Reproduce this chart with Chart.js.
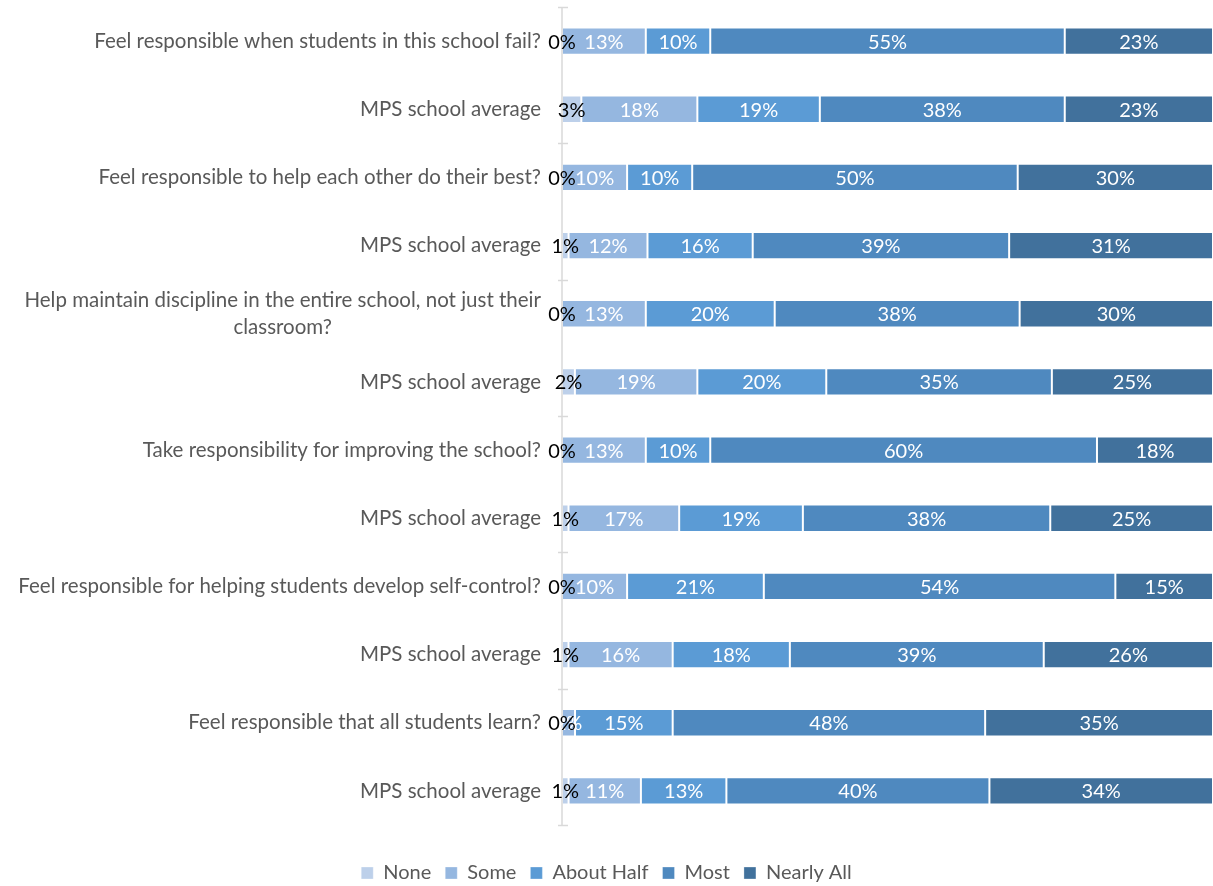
<!DOCTYPE html>
<html>
<head>
<meta charset="utf-8">
<script src="https://cdn.jsdelivr.net/npm/chart.js@4"></script>
<style>
  html, body { margin: 0; padding: 0; background: #fff; }
  #wrap { width: 1213px; height: 886px; position: relative; }
</style>
</head>
<body>
<div id="wrap"><canvas id="c"></canvas></div>
<script>
const categories = [
  "Feel responsible when students in this school fail?",
  "MPS school average",
  "Feel responsible to help each other do their best?",
  "MPS school average",
  ["Help maintain discipline in the entire school, not just their", "classroom?"],
  "MPS school average",
  "Take responsibility for improving the school?",
  "MPS school average",
  "Feel responsible for helping students develop self-control?",
  "MPS school average",
  "Feel responsible that all students learn?",
  "MPS school average"
];
const seriesNames = ["None", "Some", "About Half", "Most", "Nearly All"];
const none      = [0, 3, 0, 1, 0, 2, 0, 1, 0, 1, 0, 1];
const some      = [13, 18, 10, 12, 13, 19, 13, 17, 10, 16, 2, 11];
const aboutHalf = [10, 19, 10, 16, 20, 20, 10, 19, 21, 18, 15, 13];
const most      = [55, 38, 50, 39, 38, 35, 60, 38, 54, 39, 48, 40];
const nearlyAll = [23, 23, 30, 31, 30, 25, 18, 25, 15, 26, 35, 34];

const colors = ["#bdd0ea", "#95b7e0", "#5b9bd5", "#4f89bf", "#41719c"];
const FONT = "Lato, 'Open Sans', sans-serif";
const CAT_FS = 20.5;
const LBL_FS = 20;

const raw = [none, some, aboutHalf, most, nearlyAll];
// 100% stacked: each row is shown as share of its own total (like Excel's 100% stacked bar)
const rowTotals = categories.map((_, r) => raw.reduce((s, arr) => s + arr[r], 0));

const datasets = raw.map((arr, i) => ({
  label: seriesNames[i],
  data: arr.map((v, r) => v / rowTotals[r] * 100),
  rawValues: arr,
  backgroundColor: colors[i],
  borderColor: "rgba(255,255,255,0.3)",
  borderWidth: 1,
  borderSkipped: false,
  barPercentage: 0.4,
  categoryPercentage: 1.0
}));

const decorPlugin = {
  id: "decor",
  afterDraw(chart) {
    const ctx = chart.ctx;
    const y = chart.scales.y;
    const area = chart.chartArea;
    ctx.save();
    // axis line and tick marks (every 2 categories)
    ctx.strokeStyle = "#d9d9d9";
    ctx.lineWidth = 1.5;
    ctx.beginPath();
    ctx.moveTo(area.left, area.top);
    ctx.lineTo(area.left, area.bottom);
    for (let i = 0; i <= categories.length; i += 2) {
      const py = Math.round(y.getPixelForValue(i - 0.5)) + 0.5;
      ctx.moveTo(area.left - 4, py);
      ctx.lineTo(area.left + 6, py);
    }
    ctx.stroke();

    // category labels
    ctx.fillStyle = "#595959";
    ctx.font = CAT_FS + "px " + FONT;
    ctx.textBaseline = "middle";
    const rightX = area.left - 21;
    categories.forEach((lab, i) => {
      const cy = y.getPixelForValue(i);
      if (Array.isArray(lab)) {
        const lh = 27;
        const maxW = Math.max(...lab.map(l => ctx.measureText(l).width));
        ctx.textAlign = "center";
        lab.forEach((l, k) => {
          ctx.fillText(l, rightX - maxW / 2, cy + (k - (lab.length - 1) / 2) * lh);
        });
      } else {
        ctx.textAlign = "right";
        ctx.fillText(lab, rightX, cy);
      }
    });

    // data labels: "None" drawn last (black)
    ctx.font = LBL_FS + "px " + FONT;
    ctx.textAlign = "center";
    const order = [1, 2, 3, 4, 0];
    order.forEach(di => {
      const meta = chart.getDatasetMeta(di);
      const ds = chart.data.datasets[di];
      ctx.fillStyle = di === 0 ? "#000000" : "#ffffff";
      meta.data.forEach((bar, r) => {
        const cx = (bar.x + bar.base) / 2;
        ctx.fillText(ds.rawValues[r] + "%", cx, bar.y + 1);
      });
    });
    ctx.restore();
  }
};

new Chart(document.getElementById("c"), {
  type: "bar",
  data: { labels: categories, datasets },
  options: {
    indexAxis: "y",
    responsive: true,
    maintainAspectRatio: false,
    animation: false,
    layout: { padding: { left: 0, top: 7, right: 0, bottom: -7 } },
    scales: {
      x: { stacked: true, min: 0, max: 100, display: false },
      y: {
        stacked: true,
        offset: true,
        display: true,
        ticks: { display: false },
        grid: { display: false },
        border: { display: false },
        afterFit(scale) { scale.width = 562; }
      }
    },
    plugins: {
      tooltip: { enabled: false },
      legend: {
        position: "bottom",
        title: { display: true, text: "", font: { size: 10 }, padding: { top: 0, bottom: 12 } },
        labels: {
          boxWidth: 12,
          boxHeight: 12,
          padding: 14,
          color: "#595959",
          font: { family: FONT, size: LBL_FS }
        }
      }
    }
  },
  plugins: [decorPlugin]
});
</script>
</body>
</html>
